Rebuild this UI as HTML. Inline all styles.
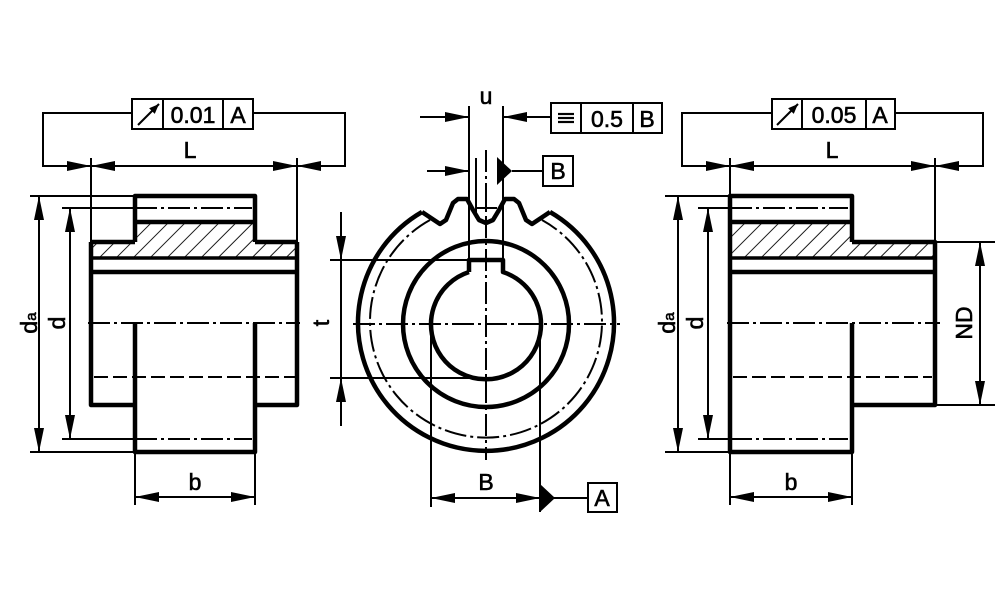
<!DOCTYPE html>
<html><head><meta charset="utf-8"><style>
html,body{margin:0;padding:0;background:#fff}
svg{display:block}
text{font-family:"Liberation Sans",sans-serif;fill:#000;stroke:#000;stroke-width:0.6}
</style></head><body>
<svg width="1000" height="611" viewBox="0 0 1000 611" xmlns="http://www.w3.org/2000/svg">
<defs>
<marker id="a" markerUnits="userSpaceOnUse" markerWidth="26" markerHeight="12" refX="24" refY="5" orient="auto-start-reverse"><path d="M0,0 L24,5 L0,10 z" fill="#000"/></marker>
<marker id="s" markerUnits="userSpaceOnUse" markerWidth="12" markerHeight="10" refX="10" refY="4" orient="auto"><path d="M0,0 L10,4 L0,8 z" fill="#000"/></marker>
<pattern id="h" patternUnits="userSpaceOnUse" width="12" height="12" patternTransform="rotate(45)"><line x1="0" y1="0" x2="0" y2="12" stroke="#000" stroke-width="1.8"/></pattern>
</defs>
<g fill="none" stroke="#000">

<!-- ===== LEFT VIEW ===== -->
<g stroke-width="2">
<rect x="132" y="99" width="121" height="30"/>
<line x1="163" y1="99" x2="163" y2="129"/><line x1="223" y1="99" x2="223" y2="129"/>
<line x1="138" y1="125" x2="159" y2="104" marker-end="url(#s)"/>
<polyline points="132,113 43,113 43,166 91,166" marker-end="url(#a)"/>
<polyline points="253,113 345,113 345,166 297,166" marker-end="url(#a)"/>
<line x1="91" y1="166" x2="297" y2="166" marker-start="url(#a)" marker-end="url(#a)"/>
<line x1="91" y1="158" x2="91" y2="242"/><line x1="297" y1="158" x2="297" y2="242"/>
<line x1="30" y1="196" x2="135" y2="196"/><line x1="30" y1="452" x2="135" y2="452"/>
<line x1="39" y1="196" x2="39" y2="452" marker-start="url(#a)" marker-end="url(#a)"/>
<line x1="62" y1="208" x2="135" y2="208"/><line x1="62" y1="439" x2="135" y2="439"/>
<line x1="70" y1="208" x2="70" y2="439" marker-start="url(#a)" marker-end="url(#a)"/>
<line x1="135" y1="452" x2="135" y2="505"/><line x1="255" y1="452" x2="255" y2="505"/>
<line x1="135" y1="497" x2="255" y2="497" marker-start="url(#a)" marker-end="url(#a)"/>
<line x1="135" y1="208" x2="252" y2="208" stroke-dasharray="22,4,3,4"/>
<line x1="135" y1="439" x2="252" y2="439" stroke-dasharray="22,4,3,4"/>
<line x1="88" y1="323" x2="300" y2="323" stroke-dasharray="22,4,3,4"/>
<line x1="94" y1="377" x2="295" y2="377" stroke-dasharray="14,5"/>
</g>
<polygon points="135,222 255,222 255,242 297,242 297,258 91,258 91,242 135,242" fill="url(#h)" stroke="none"/>
<g stroke-width="4.5" stroke-linejoin="round">
<path d="M135,242 V196 H255 V242"/>
<line x1="135" y1="222" x2="255" y2="222"/>
<path d="M91,242 H135 M255,242 H297"/>
<path d="M135,405 H91 V242 M255,405 H297 V242"/>
<line x1="91" y1="258" x2="297" y2="258" stroke-width="3.5"/>
<line x1="91" y1="272" x2="297" y2="272"/>
<path d="M135,323 V452 H255 V323"/>
</g>

<!-- ===== MIDDLE VIEW ===== -->
<g stroke-width="2">
<rect x="551" y="103" width="111" height="30"/>
<line x1="581" y1="103" x2="581" y2="133"/><line x1="633" y1="103" x2="633" y2="133"/>
<line x1="558" y1="114" x2="574" y2="114" stroke-width="2.2"/><line x1="558" y1="118" x2="574" y2="118" stroke-width="2.2"/><line x1="558" y1="122" x2="574" y2="122" stroke-width="2.2"/>
<line x1="420" y1="117" x2="469" y2="117" marker-end="url(#a)"/>
<line x1="551" y1="117" x2="503" y2="117" marker-end="url(#a)"/>
<line x1="469" y1="106" x2="469" y2="262"/><line x1="503" y1="106" x2="503" y2="262"/>
<rect x="543" y="156" width="30" height="30"/>
<line x1="427" y1="171" x2="469" y2="171" marker-end="url(#a)"/>
<line x1="512" y1="171" x2="543" y2="171"/>
<line x1="476" y1="158" x2="476" y2="218"/>
<line x1="486" y1="190" x2="486" y2="210"/><line x1="476" y1="208" x2="497" y2="208"/>
<line x1="486" y1="150" x2="486" y2="460" stroke-dasharray="22,4,3,4"/>
<line x1="353" y1="324" x2="620" y2="324" stroke-dasharray="22,4,3,4"/>
<path d="M430,220 A116,116 0 1,0 542,220" stroke-dasharray="22,4,3,4"/>
<line x1="330" y1="260" x2="469" y2="260"/><line x1="330" y1="378" x2="470" y2="378"/>
<line x1="341" y1="212" x2="341" y2="260" marker-end="url(#a)"/>
<line x1="341" y1="426" x2="341" y2="378" marker-end="url(#a)"/>
<line x1="341" y1="260" x2="341" y2="378"/>
<line x1="431" y1="324" x2="431" y2="507"/><line x1="540" y1="324" x2="540" y2="512"/>
<line x1="431" y1="498" x2="540" y2="498" marker-start="url(#a)" marker-end="url(#a)"/>
<line x1="553" y1="498" x2="588" y2="498"/>
<rect x="588" y="483" width="29" height="29"/>
</g>
<polygon points="497,157 512,171 497,185" fill="#000" stroke="none"/>
<polygon points="540,484 555,498 540,512" fill="#000" stroke="none"/>
<g stroke-width="4.5" stroke-linejoin="round">
<path d="M422,212 A128,128 0 1,0 550,212"/>
<path d="M422,212 L440,224 L446,220 L453,203 L458,199 L467,199 L473,210 L479,220 L486,223 L493,220 L499,210 L505,199 L514,199 L519,203 L526,220 L532,224 L550,212"/>
<circle cx="486" cy="324" r="83"/>
<path d="M469,272 V260 H503 V272 A55,55 0 1,1 469,272"/>
</g>

<!-- ===== RIGHT VIEW ===== -->
<g stroke-width="2">
<rect x="772" y="99" width="123" height="30"/>
<line x1="802" y1="99" x2="802" y2="129"/><line x1="866" y1="99" x2="866" y2="129"/>
<line x1="777" y1="125" x2="798" y2="104" marker-end="url(#s)"/>
<polyline points="772,113 682,113 682,166 730,166" marker-end="url(#a)"/>
<polyline points="895,113 983,113 983,166 935,166" marker-end="url(#a)"/>
<line x1="730" y1="166" x2="935" y2="166" marker-start="url(#a)" marker-end="url(#a)"/>
<line x1="730" y1="158" x2="730" y2="196"/><line x1="935" y1="158" x2="935" y2="242"/>
<line x1="665" y1="196" x2="730" y2="196"/><line x1="665" y1="452" x2="730" y2="452"/>
<line x1="678" y1="196" x2="678" y2="452" marker-start="url(#a)" marker-end="url(#a)"/>
<line x1="698" y1="208" x2="730" y2="208"/><line x1="698" y1="439" x2="730" y2="439"/>
<line x1="708" y1="208" x2="708" y2="439" marker-start="url(#a)" marker-end="url(#a)"/>
<line x1="935" y1="242" x2="995" y2="242"/><line x1="935" y1="405" x2="995" y2="405"/>
<line x1="980" y1="242" x2="980" y2="405" marker-start="url(#a)" marker-end="url(#a)"/>
<line x1="730" y1="452" x2="730" y2="505"/><line x1="852" y1="452" x2="852" y2="505"/>
<line x1="730" y1="497" x2="852" y2="497" marker-start="url(#a)" marker-end="url(#a)"/>
<line x1="730" y1="208" x2="848" y2="208" stroke-dasharray="22,4,3,4"/>
<line x1="730" y1="439" x2="848" y2="439" stroke-dasharray="22,4,3,4"/>
<line x1="727" y1="323" x2="940" y2="323" stroke-dasharray="22,4,3,4"/>
<line x1="733" y1="377" x2="932" y2="377" stroke-dasharray="14,5"/>
</g>
<polygon points="730,222 852,222 852,242 935,242 935,258 730,258" fill="url(#h)" stroke="none"/>
<g stroke-width="4.5" stroke-linejoin="round">
<path d="M852,242 V196 H730 V452 H852 V323"/>
<line x1="730" y1="222" x2="852" y2="222"/>
<path d="M852,242 H935 V405 H852"/>
<line x1="730" y1="258" x2="935" y2="258" stroke-width="3.5"/>
<line x1="730" y1="272" x2="935" y2="272"/>
</g>
</g>

<!-- ===== TEXT ===== -->
<g font-size="23">
<text x="193" y="123" text-anchor="middle">0.01</text>
<text x="238" y="123" text-anchor="middle">A</text>
<text x="190" y="158" text-anchor="middle">L</text>
<text x="195" y="490" text-anchor="middle">b</text>
<text transform="translate(37,323) rotate(-90)" text-anchor="middle">d<tspan font-size="15" dy="-1">a</tspan></text>
<text transform="translate(65,323) rotate(-90)" text-anchor="middle">d</text>

<text x="486" y="104" text-anchor="middle">u</text>
<text x="607" y="127" text-anchor="middle">0.5</text>
<text x="647" y="127" text-anchor="middle">B</text>
<text x="558" y="179" text-anchor="middle">B</text>
<text x="486" y="490" text-anchor="middle">B</text>
<text x="602" y="506" text-anchor="middle">A</text>
<text transform="translate(329,323) rotate(-90)" text-anchor="middle">t</text>

<text x="834" y="123" text-anchor="middle">0.05</text>
<text x="880" y="123" text-anchor="middle">A</text>
<text x="832" y="158" text-anchor="middle">L</text>
<text x="791" y="490" text-anchor="middle">b</text>
<text transform="translate(675,323) rotate(-90)" text-anchor="middle">d<tspan font-size="15" dy="-1">a</tspan></text>
<text transform="translate(703,323) rotate(-90)" text-anchor="middle">d</text>
<text transform="translate(972,323) rotate(-90)" text-anchor="middle">ND</text>
</g>
</svg>
</body></html>
